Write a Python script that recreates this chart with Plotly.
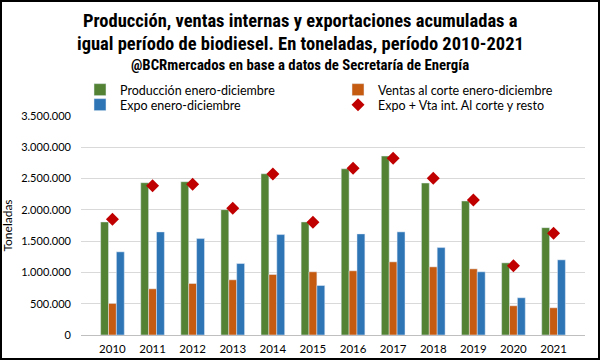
import plotly.graph_objects as go

years = ["2010", "2011", "2012", "2013", "2014", "2015", "2016", "2017", "2018", "2019", "2020", "2021"]
produccion = [1807000, 2434000, 2450000, 2003000, 2577000, 1807000, 2657000, 2860000, 2429000, 2142000, 1153000, 1716000]
ventas = [504000, 738000, 823000, 882000, 967000, 1010000, 1026000, 1169000, 1089000, 1057000, 467000, 435000]
expo = [1329000, 1648000, 1541000, 1142000, 1605000, 791000, 1616000, 1648000, 1397000, 1010000, 595000, 1201000]
expo_vta = [1850000, 2386000, 2408000, 2025000, 2573000, 1800000, 2663000, 2823000, 2504000, 2158000, 1105000, 1627000]

names = ["Producción enero-diciembre", "Ventas al corte enero-diciembre",
         "Expo enero-diciembre", "Expo + Vta int. Al corte y resto"]

W, H = 600, 360
L, R, T, B = 81, 15, 116, 25
pw = W - L - R
ph = H - T - B


def px_x(x):
    return (x - L) / pw


def px_y(y):
    return 1 + (T - y) / ph


fig = go.Figure()
fig.add_bar(x=years, y=produccion, name=names[0], marker_color="#548235", legend="legend")
fig.add_bar(x=years, y=ventas, name=names[1], marker_color="#C55A11", legend="legend2")
fig.add_bar(x=years, y=expo, name=names[2], marker_color="#2E75B6", legend="legend3")
fig.add_scatter(x=years, y=expo_vta, name=names[3], mode="markers", legend="legend4",
                marker=dict(symbol="diamond", size=10, color="#C00000"))

fig.add_shape(type="rect", xref="paper", yref="paper",
              x0=px_x(1), x1=px_x(W - 1), y0=px_y(H - 1), y1=px_y(1),
              line=dict(color="black", width=2), layer="above")

TF = "Roboto Condensed, Liberation Sans"
for txt, yc, sz in [("Producción, ventas internas y exportaciones acumuladas a", 21, 18.5),
                    ("igual período de biodiesel. En toneladas, período 2010-2021", 44, 18.5),
                    ("@BCRmercados en base a datos de Secretaría de Energía", 64.5, 14.8)]:
    fig.add_annotation(xref="paper", yref="paper", x=px_x(300), y=px_y(yc),
                       xanchor="center", yanchor="middle", showarrow=False,
                       text="<b>" + txt + "</b>",
                       font=dict(family=TF, size=sz, color="black"))

leg_common = dict(orientation="h", xanchor="left", yanchor="top",
                  font=dict(size=12.5, color="#000000", family="Lato, Liberation Sans"),
                  itemwidth=30, bgcolor="rgba(0,0,0,0)")

fig.update_layout(
    width=W, height=H,
    margin=dict(l=L, r=R, t=T, b=B, autoexpand=False),
    paper_bgcolor="white", plot_bgcolor="white",
    barmode="group", bargap=0.41, bargroupgap=0,
    separators=",.",
    font=dict(family="Lato, Liberation Sans", color="#000000"),
    showlegend=True,
    legend=dict(x=px_x(80), y=px_y(75), **leg_common),
    legend2=dict(x=px_x(338), y=px_y(75), **leg_common),
    legend3=dict(x=px_x(80), y=px_y(90), **leg_common),
    legend4=dict(x=px_x(338), y=px_y(90), **leg_common),
    xaxis=dict(showline=True, linecolor="#BFBFBF", ticks="", ticklabelstandoff=3,
               tickfont=dict(size=11.5, color="#000000")),
    yaxis=dict(range=[0, 3500000], dtick=500000, tickformat=",d",
               gridcolor="#D9D9D9", zeroline=False, showline=False,
               ticklabelstandoff=9,
               tickfont=dict(size=11, color="#000000"),
               title=dict(text="Toneladas", font=dict(size=12, color="#000000"), standoff=10)),
)

fig.write_html("out.html", config={"displayModeBar": False},
               post_script="document.body.style.margin='0';document.body.style.padding='0';")
